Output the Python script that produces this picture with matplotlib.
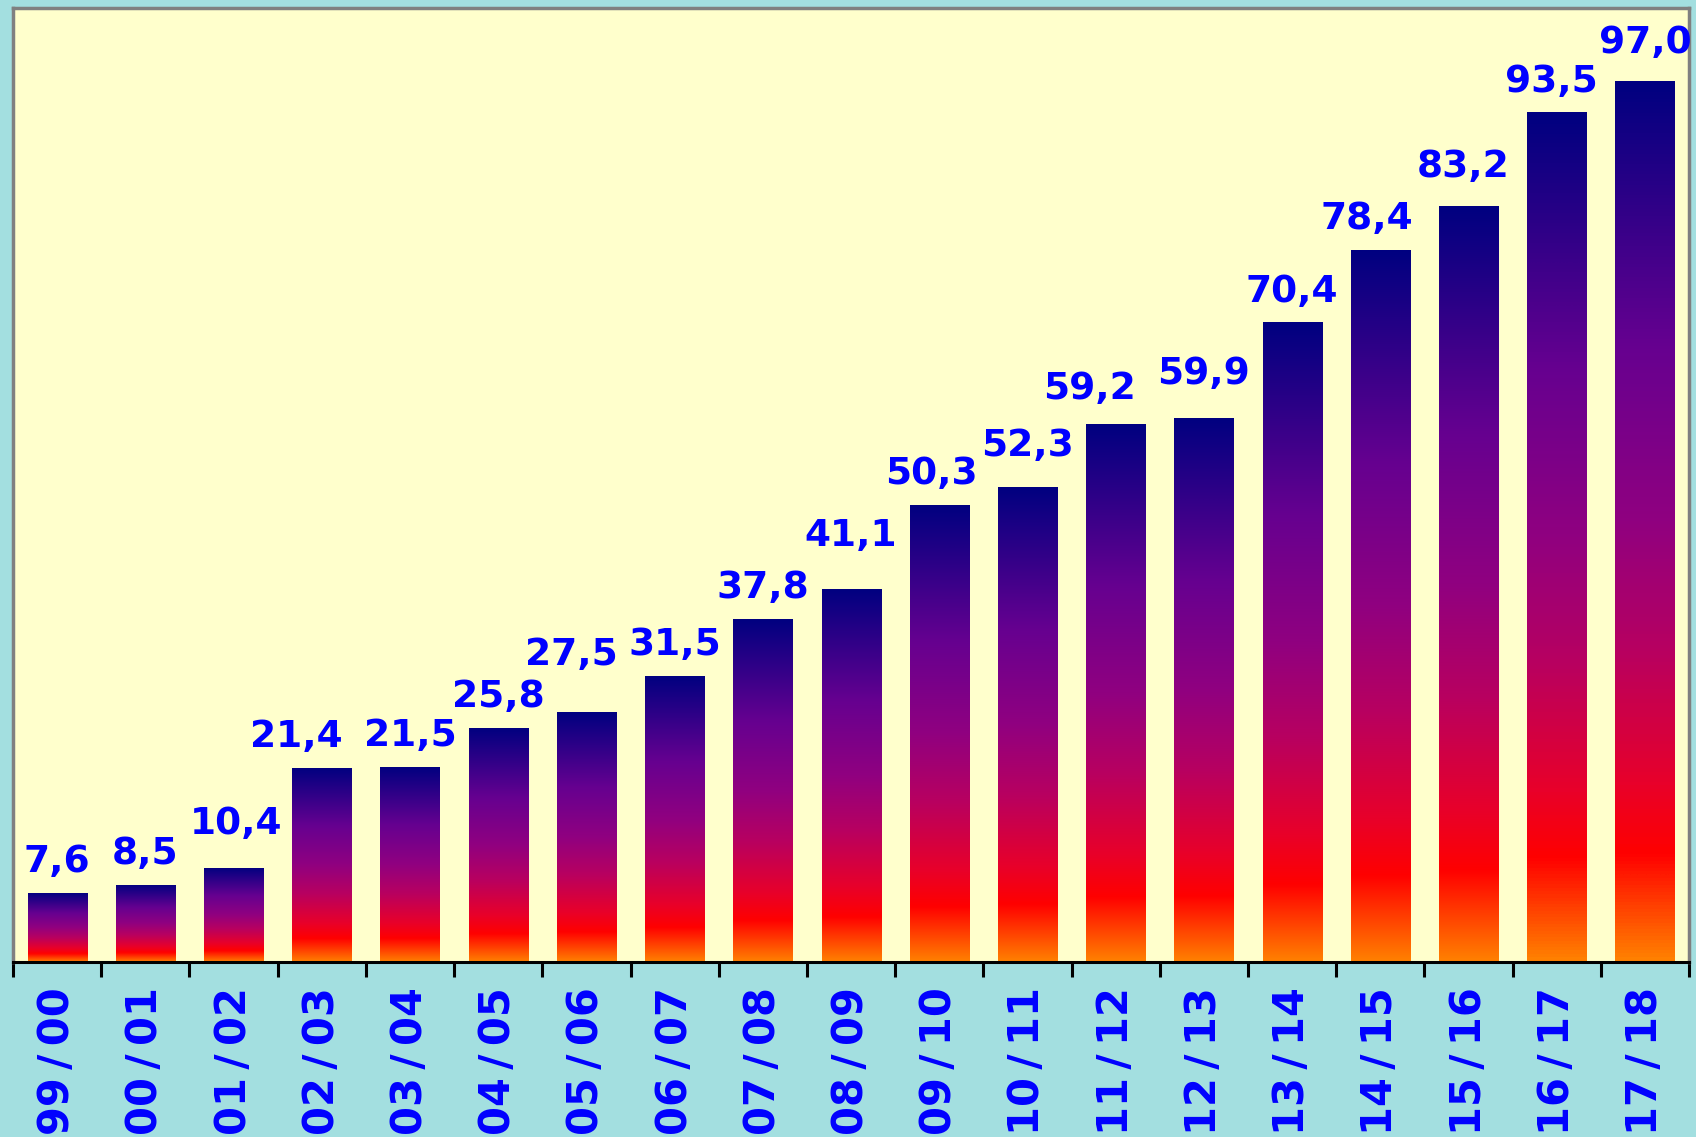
from matplotlib import pyplot as plt
from matplotlib.colors import LinearSegmentedColormap
from matplotlib.patches import Rectangle
import numpy

seasons = ['99/00', '00/01', '01/02', '02/03', '03/04', '04/05', '05/06',
           '06/07', '07/08', '08/09', '09/10', '10/11', '11/12', '12/13',
           '13/14', '14/15', '15/16', '16/17', '17/18']
values = [7.6, 8.5, 10.4, 21.4, 21.5, 25.8, 27.5, 31.5, 37.8, 41.1,
          50.3, 52.3, 59.2, 59.9, 70.4, 78.4, 83.2, 93.5, 97.0]

# hand nudges of the value labels (points), as placed in the original
nudge_x = [0, 0, 2, -18, 0, 0, -11, 0, 0, 0,
           -6, 0, -19, 0, 0, -10, -4, -4, 0]
nudge_y = [0, 0, 9, 0, 0, 0, 19, 0, 0, 16,
           0, 7, 3, 9, 0, 0, 6, 0, 5]


def barGradient():
    # bottom (0) -> top (1)
    stops = [(0.0, '#ff8000'),
             (0.12, '#ff0000'),
             (0.2, '#e8002a'),
             (0.35, '#b80060'),
             (0.5, '#900080'),
             (0.7, '#660090'),
             (1.0, '#000080')]
    return LinearSegmentedColormap.from_list('bars', stops)


def main():

    fig = plt.figure(figsize=(16.96, 11.37), dpi=100, facecolor='#a3dfe0')
    ax = fig.add_axes([0.0077, 0.1539, 0.9882, 0.8391])
    ax.set_facecolor('#ffffcc')

    x = numpy.arange(len(values))
    width = 0.67
    cmap = barGradient()
    grad = numpy.linspace(0, 1, 256).reshape(-1, 1)

    bars = ax.bar(x, values, width=width, color='none', edgecolor='none')
    for bar, val, dx, dy in zip(bars, values, nudge_x, nudge_y):
        x0 = bar.get_x()
        x1 = x0 + bar.get_width()
        im = ax.imshow(grad, cmap=cmap, origin='lower', aspect='auto',
                       extent=[x0, x1, 0, val], interpolation='bicubic',
                       zorder=2)
        clip = Rectangle((x0, 0), x1 - x0, val, transform=ax.transData)
        im.set_clip_path(clip)

        ax.annotate(('%.1f' % val).replace('.', ','),
                    xy=(bar.get_x() + bar.get_width() / 2, val),
                    xytext=(dx, 15 + dy), textcoords='offset points',
                    ha='center', va='baseline',
                    fontsize=27, fontweight='bold', color='#0000ff',
                    annotation_clip=False)

    ax.set_xlim(-0.5, len(values) - 0.5)
    ax.set_ylim(0, 105)

    # labels at the centres, tick marks between categories
    ax.set_xticks(x)
    ax.set_xticklabels([s.replace('/', '\u2009/\u2009') for s in seasons],
                       rotation=90, fontsize=30, fontweight='bold',
                       color='#0000ff', va='top')
    ax.tick_params(axis='x', which='major', length=0, pad=18)
    ax.set_xticks(numpy.arange(len(values) + 1) - 0.5, minor=True)
    ax.tick_params(axis='x', which='minor', length=11, width=2.2,
                   color='black', direction='out')
    ax.set_yticks([])

    for side in ['left', 'top', 'right']:
        ax.spines[side].set_color('#808080')
        ax.spines[side].set_linewidth(2.5)
    ax.spines['bottom'].set_color('black')
    ax.spines['bottom'].set_linewidth(2.2)

    plt.savefig('out.png', dpi=100, facecolor=fig.get_facecolor())


if __name__ == '__main__':
    main()
